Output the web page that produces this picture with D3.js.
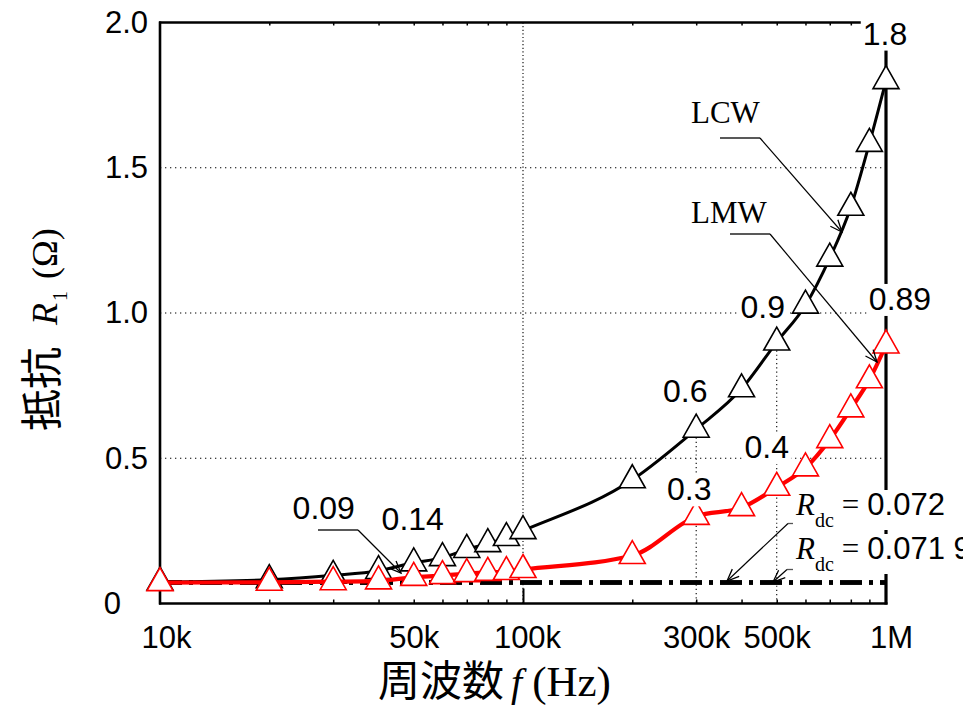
<!DOCTYPE html>
<html>
<head>
<meta charset="utf-8">
<script src="https://cdn.jsdelivr.net/npm/d3@7"></script>
<style>
  html, body { margin: 0; padding: 0; background: #fff; }
  svg { display: block; }
  .num { font-family: "Liberation Sans", Arial, sans-serif; }
  .ser { font-family: "Liberation Serif", "Times New Roman", serif; }
  .cjk { font-family: "Noto Sans CJK JP", "Noto Sans CJK SC", sans-serif; }
</style>
</head>
<body>
<svg id="chart" width="963" height="708"></svg>
<script>
// Frequency points (Hz) and AC resistance of the two windings (Ω)
const freqs = [1e4, 2e4, 3e4, 4e4, 5e4, 6e4, 7e4, 8e4, 9e4, 1e5,
               2e5, 3e5, 4e5, 5e5, 6e5, 7e5, 8e5, 9e5, 1e6];
const lcw = [0.074, 0.082, 0.097, 0.113, 0.14, 0.158, 0.186, 0.206, 0.227, 0.251,
             0.426, 0.6, 0.739, 0.9, 1.027, 1.189, 1.364, 1.584, 1.8];
const lmw = [0.072, 0.073, 0.075, 0.078, 0.09, 0.096, 0.103, 0.107, 0.11, 0.117,
             0.165, 0.3, 0.33, 0.4, 0.467, 0.564, 0.67, 0.77, 0.89];
// DC resistance of LCW and LMW
const rdcValues = [0.072, 0.0719];
const rdcTexts = ["0.072", "0.071 9"];

// Axis ticks
const xMajorTicks = [1e4, 5e4, 1e5, 3e5, 5e5, 1e6];
const xTickLabels = ["10k", "50k", "100k", "300k", "500k", "1M"];
const xMinorTicks = [2e4, 3e4, 4e4, 5e4, 6e4, 7e4, 8e4, 9e4, 2e5, 3e5, 4e5, 5e5, 6e5, 7e5, 8e5, 9e5];
const yTicks = [0, 0.5, 1.0, 1.5, 2.0];
const yTickLabels = ["0", "0.5", "1.0", "1.5", "2.0"];
const yGrid = [0.5, 1.0, 1.5];

// Value callouts: which series / point, and where the text sits relative to it
const callouts = [
  { s: "lcw", i: 18, dx: -1,  dy: -36 },
  { s: "lcw", i: 13, dx: -14, dy: -24 },
  { s: "lcw", i: 11, dx: -11, dy: -27 },
  { s: "lcw", i: 4,  dx: -1,  dy: -33 },
  { s: "lmw", i: 18, dx: 14,  dy: -35 },
  { s: "lmw", i: 13, dx: -10, dy: -29 },
  { s: "lmw", i: 11, dx: -7,  dy: -16 },
  { s: "lmw", i: 4,  dx: -90, dy: -58 }
];

const svg = d3.select("#chart");
const L = 160, R = 886, T = 22.5, B = 603.5;
const x = d3.scaleLog().domain([1e4, 1e6]).range([L, R]);
const y = d3.scaleLinear().domain([0, 2]).range([B, T]);
const series = { lcw, lmw };

// arrow head
svg.append("defs").append("marker")
  .attr("id", "arr").attr("markerUnits", "userSpaceOnUse")
  .attr("markerWidth", 16).attr("markerHeight", 12)
  .attr("refX", 13).attr("refY", 6).attr("orient", "auto")
  .append("path").attr("d", "M1,1 L13,6 L1,11")
  .attr("fill", "none").attr("stroke", "#000").attr("stroke-width", 1.3);

// dotted grid
const grid = svg.append("g").attr("stroke", "#000").attr("stroke-width", 1.1)
  .attr("stroke-dasharray", "1.3,3.7").attr("fill", "none");
grid.selectAll("line.h").data(yGrid).join("line").attr("class", "h")
  .attr("x1", L).attr("x2", R).attr("y1", d => y(d)).attr("y2", d => y(d));
grid.append("line").attr("x1", x(1e5)).attr("x2", x(1e5)).attr("y1", T).attr("y2", B)
  .attr("stroke-dasharray", "1.2,2.4");
// drop lines from the LCW points at 300k and 500k
[11, 13].forEach(i => {
  grid.append("line").attr("x1", x(freqs[i])).attr("x2", x(freqs[i]))
    .attr("y1", y(lcw[i])).attr("y2", B).attr("stroke-dasharray", "1.2,3");
});

// frame
const frame = svg.append("g").attr("stroke", "#000").attr("fill", "none");
frame.append("line").attr("x1", L).attr("x2", L).attr("y1", T - 1).attr("y2", B + 1).attr("stroke-width", 2.6);
frame.append("line").attr("x1", L - 1).attr("x2", R + 1.5).attr("y1", B).attr("y2", B).attr("stroke-width", 2.6);
frame.append("line").attr("x1", L - 1).attr("x2", R).attr("y1", T).attr("y2", T).attr("stroke-width", 2.6);
frame.append("line").attr("x1", R).attr("x2", R).attr("y1", T).attr("y2", B + 1).attr("stroke-width", 3.2);

// minor ticks (inward)
svg.append("g").attr("transform", `translate(0,${B})`)
  .call(d3.axisBottom(x).tickValues(xMinorTicks).tickSize(-4).tickFormat(""))
  .call(g => g.select(".domain").remove())
  .call(g => g.selectAll("line").attr("stroke-width", 1.5));
svg.append("g").attr("transform", `translate(0,${B})`)
  .call(d3.axisBottom(x).tickValues([1e5]).tickSize(-15).tickFormat(""))
  .call(g => g.select(".domain").remove())
  .call(g => g.selectAll("line").attr("stroke-width", 2));
svg.append("g").attr("transform", `translate(0,${T})`)
  .call(d3.axisTop(x).tickValues(xMinorTicks).tickSize(-3).tickFormat(""))
  .call(g => g.select(".domain").remove())
  .call(g => g.selectAll("line").attr("stroke-width", 1.5));

// x tick labels
svg.append("g").attr("transform", `translate(0,${B})`)
  .call(d3.axisBottom(x).tickValues(xMajorTicks).tickSize(0).tickPadding(22)
    .tickFormat((d, i) => xTickLabels[i]))
  .call(g => g.select(".domain").remove())
  .call(g => g.selectAll("text").attr("class", "num").attr("font-size", 31)
    .attr("fill", "#000").attr("font-family", null)
    .attr("dx", (d, i) => i === 0 ? 6 : (i === 2 ? 4 : (i === 5 ? 5 : 0))));

// y tick labels
svg.append("g").attr("transform", `translate(${L},0)`)
  .call(d3.axisLeft(y).tickValues(yTicks).tickSize(0).tickPadding(12)
    .tickFormat((d, i) => yTickLabels[i]))
  .call(g => g.select(".domain").remove())
  .call(g => g.selectAll("text").attr("class", "num").attr("font-size", 31)
    .attr("fill", "#000").attr("font-family", null)
    .attr("x", d => d === 0 ? -39 : -12));

// DC resistance lines (dash-dot)
svg.append("g").selectAll("line").data(rdcValues).join("line")
  .attr("x1", L).attr("x2", R).attr("y1", d => y(d)).attr("y2", d => y(d))
  .attr("stroke", "#000").attr("stroke-width", 4.5)
  .attr("stroke-dasharray", "22,7,4,7");

// curves and markers
const line = d3.line().x((d, i) => x(freqs[i])).y(d => y(d)).curve(d3.curveMonotoneX);
const tri = "M0,-15 L13,8 L-13,8 Z";
function drawSeries(vals, color, width) {
  svg.append("path").datum(vals).attr("d", line)
    .attr("fill", "none").attr("stroke", color).attr("stroke-width", width)
    .attr("stroke-linejoin", "round");
  svg.append("g").selectAll("path").data(vals).join("path")
    .attr("d", tri)
    .attr("transform", (d, i) => `translate(${x(freqs[i])},${y(d)})`)
    .attr("fill", "#fff").attr("stroke", color).attr("stroke-width", 1.6)
    .attr("stroke-linejoin", "miter");
}
drawSeries(lcw, "#000", 3);
drawSeries(lmw, "#ff0000", 4.2);

// leader lines
const lead = svg.append("g").attr("fill", "none");
function leader(hx1, hx2, hy, fromX, tx, ty, grey) {
  lead.append("line").attr("x1", hx1).attr("x2", hx2).attr("y1", hy).attr("y2", hy)
    .attr("stroke", grey ? "#555" : "#222").attr("stroke-width", 1.3);
  lead.append("line").attr("x1", fromX).attr("y1", hy).attr("x2", tx).attr("y2", ty)
    .attr("stroke", "#000").attr("stroke-width", 1.2).attr("marker-end", "url(#arr)");
}
leader(720, 760, 138, 760, 842, 232, false);  // LCW
leader(730, 770, 234, 770, 877, 362, false);  // LMW
leader(318, 358, 530, 358, 401, 573, false);  // 0.09
leader(788, 816, 523.5, 788, 727, 581, true); // Rdc LCW
leader(787, 813, 569.5, 787, 773, 582, true); // Rdc LMW

// series names
svg.append("text").attr("class", "ser").attr("x", 691).attr("y", 123)
  .attr("font-size", 31).text("LCW");
svg.append("text").attr("class", "ser").attr("x", 691).attr("y", 223)
  .attr("font-size", 31).text("LMW");

// text with white backing
function backed(sel) {
  const bb = sel.node().getBBox();
  sel.lower();
  const r = d3.select(sel.node().parentNode).insert("rect", () => sel.node())
    .attr("x", bb.x - 2).attr("y", bb.y + 3).attr("width", bb.width + 4).attr("height", bb.height - 4)
    .attr("fill", "#fff");
  return r;
}
const labels = svg.append("g");
callouts.forEach(c => {
  const v = series[c.s][c.i];
  const g = labels.append("g");
  const t = g.append("text").attr("class", "num").attr("font-size", 32)
    .attr("text-anchor", "middle")
    .attr("x", x(freqs[c.i]) + c.dx).attr("y", y(v) + c.dy).text(String(v));
  backed(t);
});

// Rdc texts
rdcTexts.forEach((s, k) => {
  const g = svg.append("g");
  const t = g.append("text").attr("x", 796).attr("y", 515 + k * 44);
  t.append("tspan").attr("class", "ser").attr("font-style", "italic").attr("font-size", 31).text("R");
  t.append("tspan").attr("class", "ser").attr("font-size", 20).attr("dy", 12).text("dc");
  t.append("tspan").attr("class", "ser").attr("font-size", 31).attr("dy", -12).attr("dx", 8).text("=");
  t.append("tspan").attr("class", "num").attr("font-size", 31).attr("dx", 8).text(s);
  backed(t);
});

// axis titles
const xt = svg.append("text").attr("x", 378).attr("y", 696);
xt.append("tspan").attr("class", "cjk").attr("font-size", 42).text("周波数");
xt.append("tspan").attr("class", "ser").attr("font-style", "italic").attr("font-size", 40).attr("dx", 7).text("f");
xt.append("tspan").attr("class", "ser").attr("font-size", 43).attr("dx", 10).text("(Hz)");

const yt = svg.append("text").attr("transform", "translate(57,431) rotate(-90)");
yt.append("tspan").attr("class", "cjk").attr("font-size", 42).text("抵抗");
yt.append("tspan").attr("class", "ser").attr("font-style", "italic").attr("font-size", 36).attr("dx", 22).text("R");
yt.append("tspan").attr("class", "ser").attr("font-size", 20).attr("dy", 10).attr("dx", 2).text("1");
yt.append("tspan").attr("class", "ser").attr("font-size", 36).attr("dy", -10).attr("dx", 12).text("(Ω)");
</script>
</body>
</html>
